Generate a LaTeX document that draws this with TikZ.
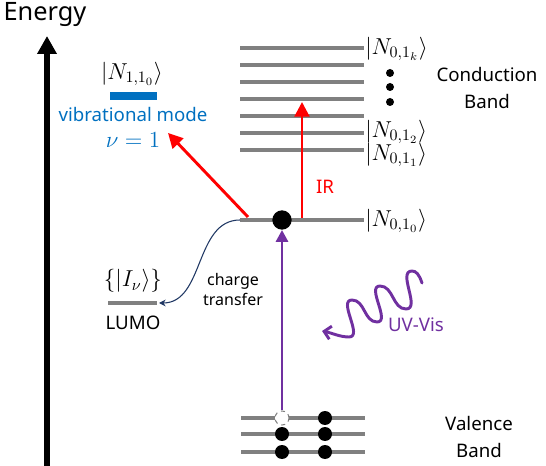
\documentclass[tikz,border=0pt]{standalone}
\usepackage{fontspec}
\setmainfont{Noto Sans}
\usetikzlibrary{arrows.meta,positioning}
\definecolor{lvlgray}{RGB}{128,128,128}
\definecolor{vibblue}{RGB}{0,112,192}
\definecolor{uvpurple}{RGB}{112,48,160}
\definecolor{ctnavy}{RGB}{32,56,100}
\newcommand\bigmath[1]{\scalebox{1.2}{$#1$}}
\tikzset{
	level/.style={draw=lvlgray, line width=3.6pt},
	elec/.style={circle, fill=black, inner sep=0pt, minimum size=10.5pt},
	lbl/.style={inner sep=0pt, align=center, font=\fontsize{14}{20}\selectfont},
	ket/.style={anchor=west, inner sep=0pt, font=\fontsize{14.4}{18}\selectfont},
	redarr/.style={red, line width=2.2pt, -{Triangle[length=11pt,width=11pt]}},
	uvarr/.style={uvpurple, line width=2.2pt, -{Triangle[length=9pt,width=9pt]}}
}
\begin{document}
\begin{tikzpicture}[x=0.75pt, y=-0.75pt, line join=round]
		\useasboundingbox (0,0) rectangle (546,466);
		\path
			(47,466) coordinate (eBot)
			(47,36) coordinate (eTop)
			(240,220) coordinate (m0)
			(364,220) coordinate (m1)
			(302,218) coordinate (irA)
			(302,102) coordinate (irB)
			(248,217) coordinate (vibA)
			(168,133) coordinate (vibB)
			(108,303) coordinate (lumoL)
			(159,303) coordinate (lumoR);
		% energy axis
		\draw[line width=4.5pt, -{Triangle[length=13.5pt,width=14pt]}] (eBot)--(eTop);
		\node[lbl, font=\fontsize{19}{20}\selectfont] (energy) at (45,15) {Energy};
		% conduction band
		\foreach \y in {48,65,82,99,116,133,150}
			\draw[level] (240,\y)--(364,\y);
		\foreach \y in {73,87,102}
			\fill (390,\y) circle (3pt);
		\node[ket] (Nk) at (365,49) {\bigmath{\left|N_{0,1_k}\right\rangle}};
		\node[ket] (N2) at (365,132) {\bigmath{\left|N_{0,1_2}\right\rangle}};
		\node[ket] (N1) at (365,155) {\bigmath{\left|N_{0,1_1}\right\rangle}};
		\node[lbl] (cband) at (487,88) {Conduction\\Band};
		% excited level
		\draw[level] (m0)--(m1);
		\node[ket] (N0) at (365,221) {\bigmath{\left|N_{0,1_0}\right\rangle}};
		\node[elec, minimum size=14.5pt] (e) at (282,220) {};
		\draw[redarr] (irA)--(irB);
		\draw[redarr] (vibA)--(vibB);
		\node[lbl, text=red] (ir) at (325,187) {IR};
		% vibrational mode
		\draw[vibblue, line width=5.3pt] (110,96)--(157,96);
		\node[ket, anchor=center] (N110) at (132,74) {\bigmath{\left|N_{1,1_0}\right\rangle}};
		\node[lbl, text=vibblue] (vib) at (133,115) {vibrational mode};
		\node[ket, anchor=center, text=vibblue] (nu) at (133,140) {\bigmath{\nu=1}};
		% LUMO
		\draw[level] (lumoL)--(157,303);
		\node[ket, anchor=center] (Iv) at (133,281) {\bigmath{\{\left|I_\nu\right\rangle\}}};
		\node[lbl] (lumo) at (133,323) {LUMO};
		\draw[ctnavy, line width=0.8pt, -{Stealth[length=5pt,width=5pt]}] (m0) to[out=180,in=0] (lumoR);
		\node[lbl, font=\fontsize{12}{15}\selectfont] (ct) at (233,290) {charge\\transfer};
		% valence band
		\foreach \y in {418,434,452}
			\draw[level] (241,\y)--(365,\y);
		\foreach \p in {(282,434),(282,452),(325,418),(325,434),(325,452)}
			\node[elec] at \p {};
		\node[circle, draw=lvlgray, dashed, fill=white, line width=0.8pt, inner sep=0pt, minimum size=10.5pt] (hole) at (282,418) {};
		\node[lbl] (vband) at (479,437) {Valence\\Band};
		% UV-Vis excitation
		\draw[uvarr] (hole.north)--(e.south);
		\draw[uvpurple, line width=2.2pt, line cap=round, -{Straight Barb[length=5pt,width=10pt]}]
			(422,283) .. controls (419,274) and (416,271) .. (412,271)
			to[out=180,in=0] (406,309)
			to[out=180,in=0] (380,286)
			to[out=180,in=0] (377,322)
			to[out=180,in=0] (352,300)
			to[out=180,in=0] (349,337)
			.. controls (340,337) and (332,333) .. (322,331);
		\node[lbl, text=uvpurple] (uv) at (416,325) {UV-Vis};
		\end{tikzpicture}
\end{document}
